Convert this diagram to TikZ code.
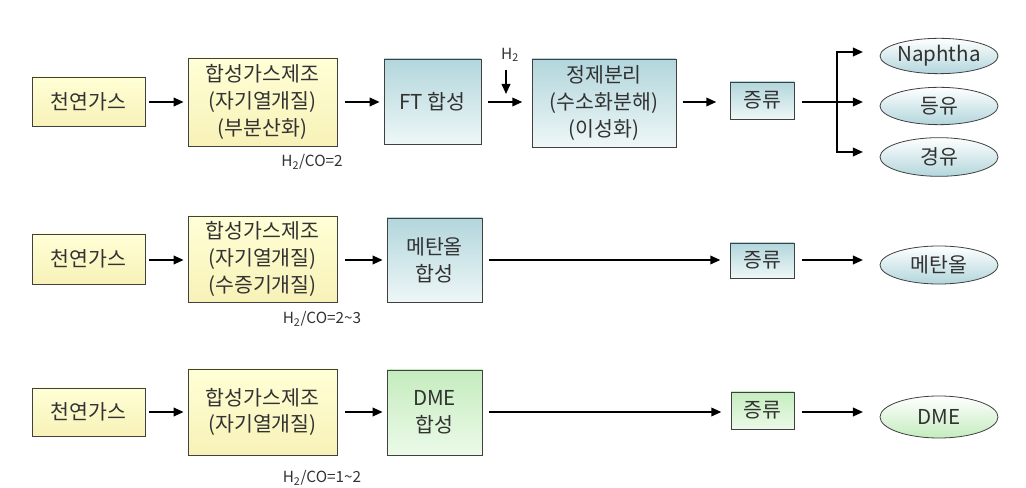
\documentclass[tikz,border=0pt]{standalone}
\usepackage{fontspec}
\setmainfont{Noto Sans CJK KR}
\usetikzlibrary{arrows.meta,shapes.geometric}
\definecolor{ylwtop}{RGB}{255,255,214}
\definecolor{ylwbot}{RGB}{248,242,184}
\definecolor{tealtop}{RGB}{178,214,220}
\definecolor{tealbot}{RGB}{238,247,247}
\definecolor{greentop}{RGB}{196,236,190}
\definecolor{greenbot}{RGB}{236,250,232}
\definecolor{txtgray}{RGB}{50,50,50}
\begin{document}
\begin{tikzpicture}[x=0.75pt,y=-0.75pt,
  every node/.style={text=txtgray,font=\fontsize{15.4}{20}\selectfont},
  box/.style={draw=black!75,line width=0.6pt,align=center,inner sep=0pt},
  yellowbox/.style={box,top color=ylwtop,bottom color=ylwbot},
  tealbox/.style={box,top color=tealtop,bottom color=tealbot},
  greenbox/.style={box,top color=greentop,bottom color=greenbot},
  prod/.style={ellipse,draw=black!75,line width=0.6pt,minimum width=88.5pt,inner sep=0pt,top color=white,bottom color=tealtop},
  ratio/.style={font=\fontsize{11.5}{13}\selectfont},
  arr/.style={line width=1.2pt,-{Triangle[length=7.5pt,width=6.5pt]},shorten <=3pt,shorten >=3pt}]
\useasboundingbox[fill=white] (0,0) rectangle (1026,488);
%Row 1: FT route
\node[yellowbox,minimum width=84.75pt,minimum height=36.75pt] (ng1) at (88.5,101.5) {천연가스};
\node[yellowbox,minimum width=111.75pt,minimum height=66pt] (syn1) at (262.5,102) {합성가스제조\\(자기열개질)\\(부분산화)};
\node[tealbox,minimum width=72.75pt,minimum height=63.75pt] (ft) at (432.5,101.5) {FT 합성};
\node[tealbox,minimum width=108pt,minimum height=66pt] (refine) at (604,103) {정제분리\\(수소화분해)\\(이성화)};
\node[tealbox,minimum width=48pt,minimum height=27.75pt] (dist1) at (762,100.5) {증류};
\node[prod,minimum height=26.5pt] (naph) at (939,56) {Naphtha};
\node[prod,minimum height=28pt] (kero) at (939,106) {등유};
\node[prod,minimum height=29pt] (gasoil) at (939,157) {경유};
\node[ratio] (r1) at (312,162) {H\textsubscript{2}/CO=2};
\node[ratio] (h2in) at (510,55) {H\textsubscript{2}};
\coordinate (h2end) at (506,94);
\coordinate (br) at (837,102);
\draw[arr] (ng1.east |- 0,102) -- (syn1.west |- 0,102);
\draw[arr,shorten <=6pt] (syn1.east |- 0,102) -- (ft.west |- 0,102);
\draw[arr,shorten <=5pt,shorten >=7pt] (ft.east |- 0,102) -- (refine.west |- 0,102);
\draw[arr,shorten <=5pt,shorten >=10pt] (refine.east |- 0,102) -- (dist1.west |- 0,102);
\draw[line width=1.2pt,-{Triangle[length=7.5pt,width=6.5pt]}] (h2in.south -| h2end) ++(0,3) -- (h2end);
\draw[arr,shorten <=6pt,shorten >=12.5pt] (dist1.east |- 0,102) -- (kero.west |- 0,102);
\draw[arr,shorten <=0pt,shorten >=12.5pt] (br) |- (naph.west |- 0,52);
\draw[arr,shorten <=0pt,shorten >=12.5pt] (br) |- (gasoil.west |- 0,152);
%Row 2: methanol route
\node[yellowbox,minimum width=84.75pt,minimum height=37.5pt] (ng2) at (88.5,259) {천연가스};
\node[yellowbox,minimum width=111.75pt,minimum height=64.5pt] (syn2) at (262.5,259) {합성가스제조\\(자기열개질)\\(수증기개질)};
\node[tealbox,minimum width=71.25pt,minimum height=63pt] (meoh) at (434.5,260) {메탄올\\합성};
\node[tealbox,minimum width=48pt,minimum height=26.25pt] (dist2) at (762,260.5) {증류};
\node[prod,minimum height=28.5pt] (meohp) at (939,265) {메탄올};
\node[ratio] (r2) at (322,319) {H\textsubscript{2}/CO=2\textasciitilde3};
\draw[arr] (ng2.east |- 0,260) -- (syn2.west |- 0,260);
\draw[arr,shorten <=6pt] (syn2.east |- 0,260) -- (meoh.west |- 0,260);
\draw[arr,shorten <=5pt,shorten >=7pt] (meoh.east |- 0,260) -- (dist2.west |- 0,260);
\draw[arr,shorten <=6pt,shorten >=12.5pt] (dist2.east |- 0,260) -- (meohp.west |- 0,260);
%Row 3: DME route
\node[yellowbox,minimum width=84.75pt,minimum height=36pt] (ng3) at (88.5,412) {천연가스};
\node[yellowbox,minimum width=111.75pt,minimum height=64.5pt] (syn3) at (262.5,412) {합성가스제조\\(자기열개질)};
\node[greenbox,minimum width=71.25pt,minimum height=63.75pt] (dme) at (434.5,412.5) {DME\\합성};
\node[greenbox,minimum width=47.25pt,minimum height=27.75pt] (dist3) at (762.5,410.5) {증류};
\node[prod,minimum height=31.5pt,bottom color=greentop] (dmep) at (939,417) {DME};
\node[ratio] (r3) at (322,478) {H\textsubscript{2}/CO=1\textasciitilde2};
\draw[arr] (ng3.east |- 0,412) -- (syn3.west |- 0,412);
\draw[arr,shorten <=6pt] (syn3.east |- 0,412) -- (dme.west |- 0,412);
\draw[arr,shorten <=5pt,shorten >=7pt] (dme.east |- 0,412) -- (dist3.west |- 0,412);
\draw[arr,shorten <=6pt,shorten >=12.5pt] (dist3.east |- 0,412) -- (dmep.west |- 0,412);
\end{tikzpicture}
\end{document}
